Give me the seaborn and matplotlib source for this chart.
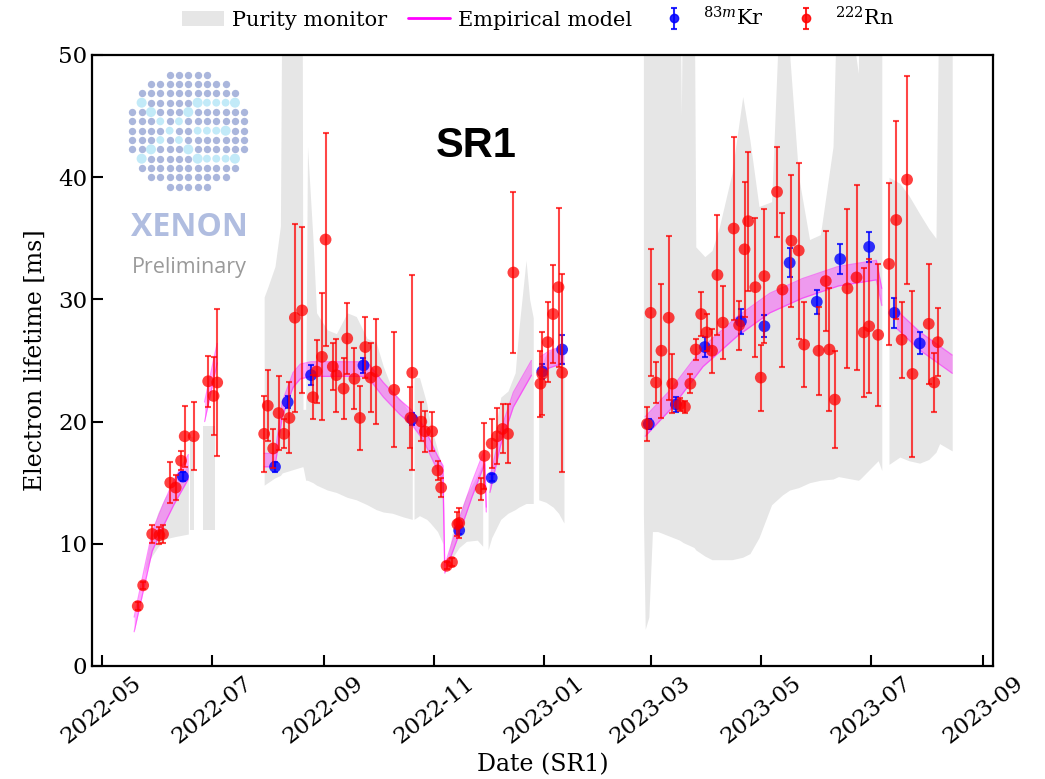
import numpy as np
import pandas as pd
import matplotlib
matplotlib.use("Agg")
import matplotlib.pyplot as plt
import matplotlib.dates as mdates
from matplotlib.patches import Patch
from matplotlib.lines import Line2D
import seaborn as sns

# ---------------- data ----------------
rn_dates = ["2022-05-21", "2022-05-24", "2022-05-29", "2022-06-02", "2022-06-04", "2022-06-08",
            "2022-06-11", "2022-06-14", "2022-06-16", "2022-06-21", "2022-06-29", "2022-07-02",
            "2022-07-04", "2022-07-30", "2022-08-01", "2022-08-04", "2022-08-07", "2022-08-10",
            "2022-08-13", "2022-08-16", "2022-08-20", "2022-08-26", "2022-08-28", "2022-08-31",
            "2022-09-02", "2022-09-06", "2022-09-08", "2022-09-12", "2022-09-14", "2022-09-18",
            "2022-09-21", "2022-09-24", "2022-09-27", "2022-09-30", "2022-10-10", "2022-10-19",
            "2022-10-20", "2022-10-25", "2022-10-27", "2022-10-31", "2022-11-03", "2022-11-05",
            "2022-11-08", "2022-11-11", "2022-11-14", "2022-11-15", "2022-11-27", "2022-11-29",
            "2022-12-03", "2022-12-06", "2022-12-09", "2022-12-12", "2022-12-15", "2022-12-30",
            "2022-12-31", "2023-01-03", "2023-01-06", "2023-01-09", "2023-01-11", "2023-02-27",
            "2023-03-01", "2023-03-04", "2023-03-07", "2023-03-11", "2023-03-13", "2023-03-17",
            "2023-03-20", "2023-03-23", "2023-03-26", "2023-03-29", "2023-04-01", "2023-04-04",
            "2023-04-07", "2023-04-10", "2023-04-16", "2023-04-19", "2023-04-22", "2023-04-24",
            "2023-04-28", "2023-05-01", "2023-05-03", "2023-05-10", "2023-05-13", "2023-05-18",
            "2023-05-22", "2023-05-25", "2023-06-02", "2023-06-06", "2023-06-08", "2023-06-11",
            "2023-06-18", "2023-06-23", "2023-06-27", "2023-06-30", "2023-07-05", "2023-07-11",
            "2023-07-15", "2023-07-18", "2023-07-21", "2023-07-24", "2023-08-02", "2023-08-05",
            "2023-08-07"]
rn_tau = [4.9, 6.6, 10.8, 10.7, 10.8, 15.0, 14.6, 16.8, 18.8, 18.8, 23.3, 22.1,
          23.2, 19.0, 21.3, 17.8, 20.7, 19.0, 20.3, 28.5, 29.1, 22.0, 24.1, 25.3,
          34.9, 24.5, 23.8, 22.7, 26.8, 23.5, 20.3, 26.1, 23.6, 24.1, 22.6, 20.3,
          24.0, 20.0, 19.2, 19.2, 16.0, 14.6, 8.2, 8.5, 11.6, 11.7, 14.5, 17.2,
          18.2, 18.8, 19.4, 19.0, 32.2, 23.1, 23.9, 26.5, 28.8, 31.0, 24.0, 19.8,
          28.9, 23.2, 25.8, 28.5, 23.1, 21.4, 21.2, 23.1, 25.9, 28.8, 27.3, 25.8,
          32.0, 28.1, 35.8, 27.9, 34.1, 36.4, 31.0, 23.6, 31.9, 38.8, 30.8, 34.8,
          34.0, 26.3, 25.8, 31.5, 25.9, 21.8, 30.9, 31.8, 27.3, 27.8, 27.1, 32.9,
          36.5, 26.7, 39.8, 23.9, 28.0, 23.2, 26.5]
rn_err = [0.3, 0.3, 0.7, 0.7, 0.7, 1.7, 1.0, 0.8, 2.5, 2.8, 2.1, 3.2,
          6.0, 3.1, 2.9, 1.6, 3.0, 1.2, 2.9, 7.7, 6.8, 1.8, 2.6, 5.2,
          8.7, 1.9, 3.0, 2.5, 2.9, 2.5, 2.6, 2.5, 2.8, 4.3, 4.7, 2.5,
          8.0, 1.6, 1.7, 1.6, 0.8, 0.8, 0.3, 0.3, 1.0, 1.2, 0.9, 2.7,
          2.0, 2.3, 2.0, 2.4, 6.6, 2.7, 3.4, 3.3, 4.0, 6.5, 8.1, 1.4,
          5.2, 1.7, 5.5, 6.7, 2.4, 0.5, 0.5, 0.8, 0.9, 1.8, 1.5, 1.8,
          4.9, 3.0, 7.5, 2.0, 5.5, 5.7, 5.7, 2.7, 5.5, 3.7, 6.3, 5.4,
          7.2, 3.5, 3.6, 4.1, 5.0, 4.0, 6.5, 7.6, 5.3, 5.5, 5.8, 6.6,
          8.1, 3.1, 8.5, 6.8, 4.9, 2.4, 2.8]

kr_dates = ["2022-06-15", "2022-08-05", "2022-08-12", "2022-08-25", "2022-09-23", "2022-10-20",
            "2022-11-15", "2022-12-03", "2022-12-31", "2023-01-11", "2023-02-28", "2023-03-15",
            "2023-03-31", "2023-04-20", "2023-05-03", "2023-05-17", "2023-06-01", "2023-06-14",
            "2023-06-30", "2023-07-14", "2023-07-28"]
kr_tau = [15.5, 16.3, 21.6, 23.8, 24.6, 20.2, 11.1, 15.4, 24.1, 25.9, 19.8, 21.4,
          26.1, 28.2, 27.8, 33.0, 29.8, 33.3, 34.3, 28.9, 26.4]
kr_err = [0.4, 0.4, 0.5, 0.8, 0.6, 0.5, 0.3, 0.3, 0.6, 1.2, 0.4, 0.6,
          0.8, 1.0, 0.9, 1.2, 1.0, 1.2, 1.2, 1.2, 0.9]

# empirical model band (None separates pieces)
model_dates = ["2022-05-19", "2022-05-24", "2022-05-29", "2022-06-04", "2022-06-10", "2022-06-18", None,
               "2022-06-27", "2022-07-04", None,
               "2022-07-30", "2022-08-05", "2022-08-09", "2022-08-15", "2022-08-19", "2022-08-25",
               "2022-09-25", "2022-10-04", "2022-10-13", "2022-10-20", "2022-10-26", "2022-11-03",
               "2022-11-06", "2022-11-07", "2022-11-15", "2022-11-22", "2022-11-29", "2022-11-30", None,
               "2022-12-02", "2022-12-08", "2022-12-15", "2022-12-25", None,
               "2022-12-30", "2023-01-04", "2023-01-12", None,
               "2023-02-26", "2023-03-12", "2023-03-30", "2023-04-18", "2023-05-06", "2023-05-24",
               "2023-06-13", "2023-07-04", "2023-07-07", None,
               "2023-07-15", "2023-07-28", "2023-08-15"]
model_center = [3.4, 6.8, 10.2, 12.3, 14.2, 16.3, None,
                20.8, 25.6, None,
                16.85, 16.85, 21.0, 23.4, 24.1, 24.3,
                24.3, 22.6, 21.2, 20.3, 19.1, 16.6,
                15.8, 7.9, 11.4, 14.4, 17.1, 12.8, None,
                14.8, 18.7, 21.8, 24.4, None,
                24.6, 25.1, 25.5, None,
                19.6, 21.8, 25.3, 27.8, 29.7, 30.9,
                31.9, 32.4, 30.2, None,
                28.4, 26.6, 24.7]
model_half = [0.6, 0.7, 0.8, 0.9, 1.0, 1.0, None,
              0.8, 0.8, None,
              0.55, 0.55, 0.6, 0.6, 0.6, 0.6,
              0.6, 0.6, 0.6, 0.6, 0.6, 0.6,
              0.6, 0.3, 0.6, 0.6, 0.6, 0.2, None,
              0.6, 0.6, 0.6, 0.6, None,
              0.7, 0.7, 0.7, None,
              0.8, 0.8, 0.8, 0.8, 0.8, 0.8,
              0.8, 0.8, 0.7, None,
              0.75, 0.75, 0.75]

# purity monitor band (None separates pieces); 60 = beyond the top of the axis
pm_dates = ["2022-05-25", "2022-05-28", "2022-06-01", "2022-06-05", "2022-06-11", "2022-06-18", None,
            "2022-06-19", "2022-06-21", None,
            "2022-06-26", "2022-07-03", None,
            "2022-07-30", "2022-08-01", "2022-08-05", "2022-08-08", "2022-08-09", "2022-08-20",
            "2022-08-20 12:00", "2022-08-22", "2022-08-23", "2022-08-26", "2022-08-28", "2022-09-03",
            "2022-09-08", "2022-09-14", "2022-09-19", "2022-09-25", "2022-09-30", "2022-10-04",
            "2022-10-09", "2022-10-15", "2022-10-20", None,
            "2022-10-21", "2022-10-24", "2022-10-28", "2022-10-30", "2022-11-03", "2022-11-06", None,
            "2022-11-08", "2022-11-11", "2022-11-15", "2022-11-19", "2022-11-25", "2022-11-28", None,
            "2022-12-01", "2022-12-03", "2022-12-08", "2022-12-12", "2022-12-16", "2022-12-18",
            "2022-12-22", "2022-12-24", "2022-12-26", None,
            "2022-12-29", "2023-01-02", "2023-01-06", "2023-01-09", "2023-01-12", None,
            "2023-02-25", "2023-02-26", "2023-02-28", "2023-03-02", "2023-03-05", "2023-03-17",
            "2023-03-18", "2023-03-19", "2023-03-25", "2023-03-26", "2023-03-31", "2023-04-04",
            "2023-04-08", "2023-04-15", "2023-04-21", "2023-04-25", "2023-04-30", "2023-05-07",
            "2023-05-13", "2023-05-17", "2023-05-22", "2023-05-28", "2023-06-03", "2023-06-10",
            "2023-06-13", "2023-06-24", "2023-06-25", "2023-07-05", "2023-07-07", None,
            "2023-07-11", "2023-07-17", "2023-07-22", "2023-07-28", "2023-08-02", "2023-08-06",
            "2023-08-08", "2023-08-15"]
pm_low = [7.6, 8.8, 9.7, 10.4, 10.6, 10.8, None,
          11.1, 11.1, None,
          11.1, 11.1, None,
          14.8, 15.0, 15.4, 15.6, 15.8, 16.3,
          16.3, 15.2, 15.2, 15.0, 14.8, 14.4,
          14.2, 13.8, 13.6, 13.2, 12.8, 12.6,
          12.5, 12.2, 12.0, None,
          12.0, 12.3, 12.0, 11.7, 11.0, 10.0, None,
          7.9, 8.8, 9.7, 10.2, 10.3, 9.8, None,
          9.5, 10.5, 12.0, 12.5, 12.8, 13.0,
          13.3, 13.3, 13.3, None,
          13.6, 13.4, 13.0, 12.5, 11.7, None,
          12.5, 3.0, 4.0, 11.0, 11.0, 10.3,
          10.2, 10.1, 9.7, 9.5, 9.0, 8.7,
          8.7, 8.7, 8.9, 9.2, 10.5, 13.2,
          14.0, 14.4, 14.6, 15.0, 15.2, 15.3,
          15.5, 15.2, 15.3, 16.8, 16.0, None,
          16.5, 17.1, 16.8, 16.6, 16.9, 17.5,
          18.2, 17.6]
pm_high = [8.0, 10.5, 12.5, 13.8, 15.0, 16.5, None,
           18.7, 18.7, None,
           19.6, 19.6, None,
           30.2, 31.0, 32.7, 36.0, 60, 60,
           21.0, 21.0, 42.5, 35.0, 28.9, 27.5,
           27.2, 28.9, 28.6, 26.8, 26.5, 24.5,
           22.6, 21.5, 20.4, None,
           23.6, 23.6, 21.5, 19.8, 17.7, 16.0, None,
           8.2, 10.8, 12.5, 14.0, 15.6, 16.6, None,
           14.0, 17.5, 22.0, 22.5, 24.0, 27.5,
           33.2, 30.0, 28.5, None,
           24.0, 25.5, 26.0, 26.0, 26.0, None,
           60, 60, 60, 60, 60, 60,
           45, 60, 60, 34.3, 33.5, 34.0,
           35.9, 40.3, 46.6, 43.0, 37.6, 38.0,
           60, 50, 40.0, 34.9, 35.3, 42.5,
           60, 48.5, 60, 60, 55, None,
           40.0, 39.5, 38.5, 37.0, 35.8, 35.0,
           60, 60]

x_tick_months = [1, 3, 5, 7, 9, 11]
y_ticks = [0, 10, 20, 30, 40, 50]
legend_labels = ["Purity monitor", "Empirical model", r"$^{83m}$Kr", r"$^{222}$Rn"]

# XENON logo dot pattern: column span per row, and light-coloured dots (row, col)
logo_rows = [(4, 8), (2, 10), (1, 11), (1, 11), (0, 12), (0, 12), (0, 12),
             (0, 12), (0, 12), (1, 11), (1, 11), (2, 10), (4, 8)]
logo_light = [(3, 1), (3, 7), (3, 8), (3, 9), (3, 10), (3, 11), (4, 2), (4, 6), (5, 3), (5, 5),
              (6, 4), (6, 7), (6, 8), (6, 9), (6, 10), (7, 3), (7, 5), (8, 2), (8, 6),
              (9, 1), (9, 7), (9, 8), (9, 9), (9, 10), (9, 11)]
logo_big = [(3, 1), (3, 7), (3, 11), (4, 2), (4, 6), (6, 10), (8, 2), (8, 6), (9, 1), (9, 7), (9, 11)]


def to_dt(lst):
    return pd.to_datetime(lst, format="ISO8601")


def pieces(dates, *cols):
    out, cur = [], []
    for i, d in enumerate(dates):
        if d is None:
            if cur:
                out.append(cur)
            cur = []
        else:
            cur.append(i)
    if cur:
        out.append(cur)
    for idx in out:
        yield (to_dt([dates[i] for i in idx]),) + tuple(
            np.array([c[i] for i in idx], dtype=float) for c in cols)


# ---------------- style ----------------
sns.set_theme(style="ticks")
plt.rcParams["font.family"] = ["DejaVu Serif"]
plt.rcParams["mathtext.fontset"] = "dejavuserif"
plt.rcParams["text.color"] = "black"
plt.rcParams["axes.labelcolor"] = "black"

fig = plt.figure(figsize=(10.45, 7.79), dpi=100)
ax = fig.add_axes([92 / 1045, 1 - 666 / 779, (993 - 92) / 1045, (666 - 55) / 779])

# purity monitor
for d, lo, hi in pieces(pm_dates, pm_low, pm_high):
    ax.fill_between(d, lo, hi, color="#e6e6e6", linewidth=0, zorder=1)

# empirical model
for d, c, h in pieces(model_dates, model_center, model_half):
    ax.fill_between(d, c - h, c + h, color="magenta", alpha=0.33, linewidth=0, zorder=2)
    sns.lineplot(x=d, y=c - h, ax=ax, color="magenta", alpha=0.45, lw=0.9, zorder=2)
    sns.lineplot(x=d, y=c + h, ax=ax, color="magenta", alpha=0.45, lw=0.9, zorder=2)

kr = pd.DataFrame({"date": to_dt(kr_dates), "tau": kr_tau, "err": kr_err})
rn = pd.DataFrame({"date": to_dt(rn_dates), "tau": rn_tau, "err": rn_err})

ax.errorbar(kr["date"], kr["tau"], yerr=kr["err"], fmt="none", ecolor="blue", alpha=0.8,
            elinewidth=1.5, capsize=2.5, capthick=1.5, zorder=3)
sns.scatterplot(data=kr, x="date", y="tau", ax=ax, color="blue", alpha=0.8, s=72,
                edgecolor="none", zorder=4)
ax.errorbar(rn["date"], rn["tau"], yerr=rn["err"], fmt="none", ecolor="red", alpha=0.72,
            elinewidth=1.5, capsize=2.5, capthick=1.5, zorder=5)
sns.scatterplot(data=rn, x="date", y="tau", ax=ax, color="red", alpha=0.75, s=72,
                edgecolor="none", zorder=6)

# axes
ax.set_xlim(pd.Timestamp("2022-04-25 16:00"), pd.Timestamp("2023-09-06 14:00"))
ax.set_ylim(0, 50)
ax.set_yticks(y_ticks)
ax.xaxis.set_major_locator(mdates.MonthLocator(bymonth=x_tick_months))
ax.xaxis.set_major_formatter(mdates.DateFormatter("%Y-%m"))
ax.tick_params(direction="in", length=8, width=1.5, labelsize=16.5, colors="black",
               top=False, right=False)
ax.tick_params(axis="x", pad=4)
for lab in ax.get_xticklabels():
    lab.set_rotation(38)
    lab.set_ha("center")
for s in ax.spines.values():
    s.set_linewidth(1.6)
    s.set_color("black")
ax.set_xlabel("Date (SR1)", fontsize=17, color="black")
ax.xaxis.set_label_coords(0.5, -0.142)
ax.set_ylabel("Electron lifetime [ms]", fontsize=17, labelpad=8, color="black")

# legend
h_pm = Patch(facecolor="#e6e6e6", edgecolor="none")
h_model = Line2D([], [], color="magenta", lw=2)
h_kr = ax.errorbar([np.nan], [np.nan], yerr=[np.nan], fmt="o", color="blue", alpha=0.85,
                   ms=6, elinewidth=1.5, capsize=2.5, capthick=1.5)
h_rn = ax.errorbar([np.nan], [np.nan], yerr=[np.nan], fmt="o", color="red", alpha=0.85,
                   ms=6, elinewidth=1.5, capsize=2.5, capthick=1.5)
fig.legend([h_pm, h_model, h_kr, h_rn], legend_labels, loc="center", ncol=4,
           bbox_to_anchor=(0.515, 1 - 18 / 779), frameon=False, fontsize=15,
           handlelength=2.0, columnspacing=1.0, handletextpad=0.4)

# SR1 label
fig.text(476 / 1045, 1 - 146 / 779, "SR1", fontsize=30, fontweight="bold",
         family="Liberation Sans", color="black", ha="center", va="center")

# XENON logo
lax = fig.add_axes([125 / 1045, 1 - 194 / 779, 127 / 1045, 126 / 779])
lax.set_xlim(125, 252)
lax.set_ylim(194, 68)
lax.axis("off")
gx, gy, col_light, col_big = [], [], [], []
for r, (c0, c1) in enumerate(logo_rows):
    for c in range(c0, c1 + 1):
        gx.append(132.3 + 9.33 * c)
        gy.append(74.7 + 9.33 * r)
        col_light.append((r, c) in logo_light)
        col_big.append((r, c) in logo_big)
gx, gy = np.array(gx), np.array(gy)
col_light, col_big = np.array(col_light), np.array(col_big)
lax.scatter(gx[~col_light], gy[~col_light], s=28, color="#aab6dc", linewidth=0)
lax.scatter(gx[col_light], gy[col_light], s=np.where(col_big[col_light], 52, 32),
            color="#c2eaf8", linewidth=0)
fig.text(189 / 1045, 1 - 227 / 779, "XENON", fontsize=23, fontweight="bold",
         family="Open Sans", color="#b0bde0", ha="center", va="center")
fig.text(189 / 1045, 1 - 268 / 779, "Preliminary", fontsize=15.5,
         family="Open Sans", color="#9a9a9a", ha="center", va="center")

fig.savefig("out.png", dpi=100)
